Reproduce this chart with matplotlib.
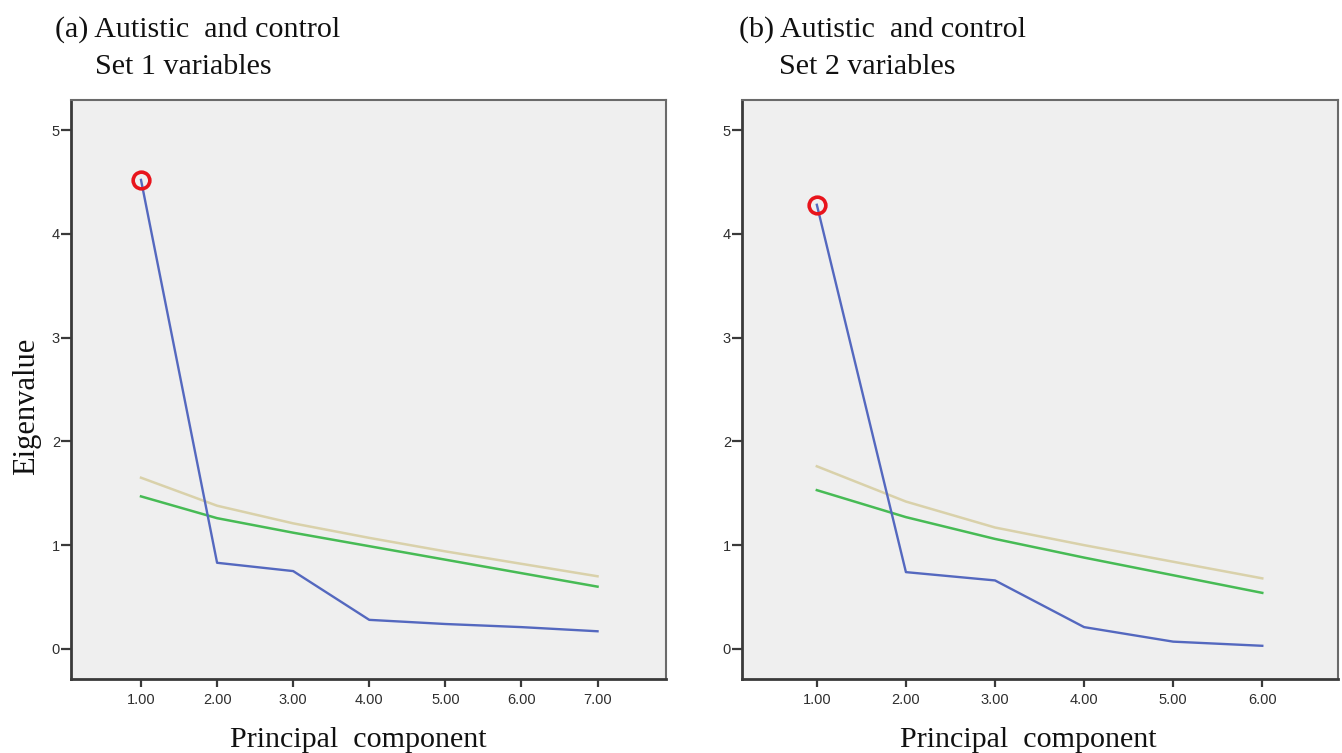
import matplotlib
matplotlib.use("Agg")
import matplotlib.pyplot as plt

# ---- data ----
comp_a = [1, 2, 3, 4, 5, 6, 7]
eig_a = [4.52, 0.83, 0.75, 0.28, 0.24, 0.21, 0.17]
green_a = [1.47, 1.26, 1.12, 0.99, 0.86, 0.73, 0.60]
tan_a = [1.65, 1.38, 1.21, 1.07, 0.94, 0.82, 0.70]

comp_b = [1, 2, 3, 4, 5, 6]
eig_b = [4.28, 0.74, 0.66, 0.21, 0.07, 0.03]
green_b = [1.53, 1.27, 1.06, 0.88, 0.71, 0.54]
tan_b = [1.76, 1.42, 1.17, 1.00, 0.84, 0.68]

xticks_a = [1, 2, 3, 4, 5, 6, 7]
xticks_b = [1, 2, 3, 4, 5, 6]
yticks = [0, 1, 2, 3, 4, 5]

titles = [("(a) Autistic  and control", "Set 1 variables"),
          ("(b) Autistic  and control", "Set 2 variables")]
xlabel = "Principal  component"
ylabel = "Eigenvalue"

BLUE = "#5468bf"
GREEN = "#47bb55"
TAN = "#d9d1aa"
BG = "#efefef"
SERIF = ["Liberation Serif", "DejaVu Serif"]
SANS = ["Liberation Sans", "DejaVu Sans"]

fig = plt.figure(figsize=(13.42, 7.53), dpi=100)
fig.patch.set_facecolor("white")

W, H = 1342, 753
def rect(l, t, r, b):
    return [l / W, 1 - b / H, (r - l) / W, (b - t) / H]

panels = [
    dict(rect=rect(71, 100, 666, 679), x=comp_a, eig=eig_a, g=green_a, t=tan_a,
         xt=xticks_a, xlim=(0.08, 7.9), title_x=(55, 95), xl_x=358),
    dict(rect=rect(742, 100, 1338, 679), x=comp_b, eig=eig_b, g=green_b, t=tan_b,
         xt=xticks_b, xlim=(0.16, 6.85), title_x=(739, 779), xl_x=1028),
]

for i, p in enumerate(panels):
    ax = fig.add_axes(p["rect"])
    ax.set_facecolor(BG)
    ax.plot(p["x"], p["t"], color=TAN, lw=1.8, zorder=2)
    ax.plot(p["x"], p["g"], color=GREEN, lw=1.8, zorder=3)
    ax.plot(p["x"], p["eig"], color=BLUE, lw=1.7, zorder=4)
    ax.plot(p["x"][:1], p["eig"][:1], "o", ms=12, mfc="none", mec="#e8141c",
            mew=2.6, zorder=5)
    ax.set_xlim(*p["xlim"])
    ax.set_ylim(-0.29, 5.29)
    ax.set_xticks(p["xt"])
    ax.set_xticklabels(["%.2f" % v for v in p["xt"]])
    ax.set_yticks(yticks)
    ax.set_yticklabels([str(v) for v in yticks])
    for lab in ax.get_xticklabels() + ax.get_yticklabels():
        lab.set_fontfamily(SANS)
        lab.set_fontsize(10.5)
        lab.set_color("#2e2e2e")
    ax.tick_params(axis="x", direction="out", length=6, width=1.6, color="#3a3a3a", pad=4)
    ax.tick_params(axis="y", direction="out", length=7, width=1.6, color="#3a3a3a", pad=1)
    ax.tick_params(top=False, right=False)
    for side in ["left", "bottom"]:
        ax.spines[side].set_color("#3a3a3a")
        ax.spines[side].set_linewidth(2.0)
    for side in ["top", "right"]:
        ax.spines[side].set_color("#6a6a6a")
        ax.spines[side].set_linewidth(1.5)

    t1, t2 = titles[i]
    fig.text(p["title_x"][0] / W, 1 - 37 / H, t1, family=SERIF, fontsize=21.6,
             ha="left", va="baseline", color="#111111")
    fig.text(p["title_x"][1] / W, 1 - 74 / H, t2, family=SERIF, fontsize=21.6,
             ha="left", va="baseline", color="#111111")
    fig.text(p["xl_x"] / W, 1 - 747 / H, xlabel, family=SERIF, fontsize=21.6,
             ha="center", va="baseline", color="#111111")

fig.text(27 / W, 1 - 406 / H, ylabel, family=SERIF, fontsize=22, rotation=90,
         ha="center", va="center", color="#111111")

fig.savefig("out.png", dpi=100, facecolor="white")
